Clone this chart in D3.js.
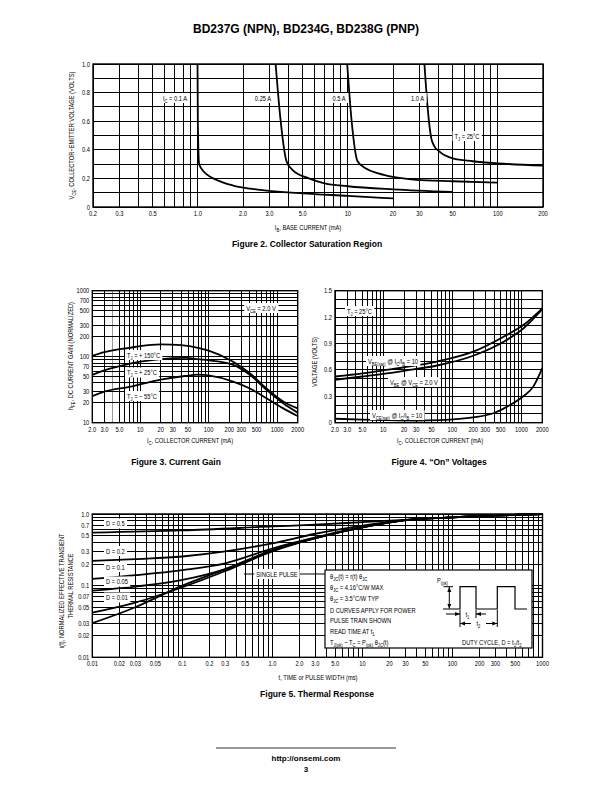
<!DOCTYPE html>
<html><head><meta charset="utf-8">
<script src="https://cdn.jsdelivr.net/npm/d3@7"></script>
<style>
body{margin:0;background:#fff}
svg{display:block}
text{font-family:"Liberation Sans",Arial,Helvetica,sans-serif;fill:#000}
text.bold{font-weight:bold}
</style></head><body>
<svg id="page" width="612" height="792"></svg>
<script>
// ---------- Figure 2 data ----------
const fig2XTicks = [0.2,0.3,0.5,1,2,3,5,10,20,30,50,100,200];
const fig2XLabels = ["0.2","0.3","0.5","1.0","2.0","3.0","5.0","10","20","30","50","100","200"];
const fig2YTicks = [0,0.2,0.4,0.6,0.8,1.0];
const fig2YLabels = ["0","0.2","0.4","0.6","0.8","1.0"];
const ic01 = [[0.995,1.0],[1.0,0.6],[1.02,0.30],[1.07,0.26],[1.14,0.23],[1.33,0.19],[1.72,0.15],[2.6,0.12],[5.0,0.095],[10,0.078],[20,0.06]];
const ic025 = [[3.3,1.0],[3.55,0.62],[3.9,0.32],[4.27,0.26],[5.5,0.20],[7,0.165],[10,0.145],[20,0.123],[50,0.105]];
const ic05 = [[9.9,1.0],[10.6,0.6],[11.6,0.32],[13.2,0.27],[16,0.235],[20,0.21],[28.5,0.19],[50,0.18],[100,0.17]];
const ic10 = [[32.4,1.0],[34,0.7],[36,0.48],[37.5,0.43],[40.5,0.39],[50,0.34],[68,0.32],[100,0.305],[200,0.29]];

// ---------- Figure 3 data ----------
const icTicks = [2,3,5,10,20,30,50,100,200,300,500,1000,2000];
const icLabels = ["2.0","3.0","5.0","10","20","30","50","100","200","300","500","1000","2000"];
const fig3YTicks = [10,20,30,50,70,100,200,300,500,700,1000];
const fig3YLabels = ["10","20","30","50","70","100","200","300","500","700","1000"];
const hfe150 = [[2,103],[3,117],[5,130],[7,136],[10,145],[20,154],[40,150],[75,134],[100,124],[228,84],[400,56],[700,33],[1228,21],[2000,16.5]];
const hfe25 = [[2,53],[3,62],[5,72],[10,84],[20,92],[47,96],[75,91],[100,88],[228,75],[400,53],[700,31.5],[1228,19.7],[2000,14.2]];
const hfeM55 = [[2,25.3],[3,29.5],[7,35],[20,45],[45,51],[70,53.5],[104,51.5],[228,42],[400,33],[700,23.4],[1228,16.5],[2000,12.6]];

// ---------- Figure 4 data ----------
const fig4YTicks = [0,0.3,0.6,0.9,1.2,1.5];
const fig4YLabels = ["0","0.3","0.6","0.9","1.2","1.5"];
const vbeSat = [[2,0.525],[5,0.56],[10,0.595],[20,0.63],[60,0.695],[200,0.807],[611,0.997],[1062,1.11],[2000,1.30]];
const vbe = [[2,0.488],[5,0.525],[10,0.555],[20,0.59],[60,0.65],[200,0.761],[611,0.94],[1062,1.07],[2000,1.29]];
const vceSat = [[2,0.045],[5,0.035],[10,0.03],[30,0.025],[66,0.03],[200,0.06],[400,0.11],[611,0.18],[1062,0.3],[1480,0.41],[2000,0.62]];

// ---------- Figure 5 data ----------
const fig5XTicks = [0.01,0.02,0.03,0.05,0.1,0.2,0.3,0.5,1,2,3,5,10,20,30,50,100,200,300,500,1000];
const fig5XLabels = ["0.01","0.02","0.03","0.05","0.1","0.2","0.3","0.5","1.0","2.0","3.0","5.0","10","20","30","50","100","200","300","500","1000"];
const fig5YTicks = [0.01,0.02,0.03,0.05,0.07,0.1,0.2,0.3,0.5,0.7,1.0];
const fig5YLabels = ["0.01","0.02","0.03","0.05","0.07","0.1","0.2","0.3","0.5","0.7","1.0"];
const d05 = [[0.01,0.55],[0.1,0.59],[1,0.67],[3,0.71],[10,0.77],[30,0.83],[100,0.9],[1000,1.0]];
const d02 = [[0.01,0.222],[0.03,0.235],[0.1,0.255],[0.3,0.30],[1,0.39],[3,0.53],[10,0.69],[30,0.83],[100,0.9],[1000,1.0]];
const d01 = [[0.01,0.124],[0.03,0.14],[0.1,0.165],[0.3,0.205],[1,0.33],[3,0.47],[10,0.66],[30,0.82],[100,0.9],[1000,1.0]];
const d005 = [[0.01,0.085],[0.03,0.097],[0.1,0.12],[0.3,0.17],[1,0.31],[3,0.46],[10,0.65],[30,0.82],[100,0.9],[1000,1.0]];
const d001 = [[0.01,0.042],[0.03,0.058],[0.1,0.095],[0.3,0.16],[1,0.30],[3,0.46],[10,0.65],[30,0.82],[100,0.9],[1000,1.0]];
const single = [[0.01,0.030],[0.03,0.05],[0.1,0.10],[0.3,0.17],[1,0.31],[3,0.46],[10,0.65],[30,0.82],[100,0.9],[1000,1.0]];
const insetLines = ["θ_{JC}(t) = r(t) θ_{JC}","θ_{JC} = 4.16°C/W MAX","θ_{JC} = 3.5°C/W TYP","D CURVES APPLY FOR POWER","PULSE TRAIN SHOWN","READ TIME AT t_{1}","T_{J(pk)} − T_{C} = P_{(pk)} θ_{JC}(t)"];

// ---------- helpers ----------
const NARROW = 0.82;
const svg = d3.select('#page');
svg.append('rect').attr('width',612).attr('height',792).attr('fill','#fff');
const defs = svg.append('defs');
defs.append('marker').attr('id','arr').attr('viewBox','0 0 10 10').attr('refX',10).attr('refY',5)
  .attr('markerWidth',5).attr('markerHeight',5).attr('orient','auto-start-reverse').attr('markerUnits','userSpaceOnUse')
  .append('path').attr('d','M0,1 L10,5 L0,9 Z').attr('fill','#000');

function rich(sel, str){
  const fs = parseFloat(sel.attr('font-size')) || 7;
  const parts = str.split(/(_\{[^}]*\})/);
  let sub = false;
  parts.forEach(p=>{
    if(!p) return;
    const m = p.match(/^_\{([^}]*)\}$/);
    if(m){ const ts = sel.append('tspan').attr('font-size', fs*0.72).text(m[1]); if(!sub) ts.attr('dy', fs*0.3); sub = true; }
    else { const ts = sel.append('tspan').text(p); if(sub){ ts.attr('dy', -fs*0.3); sub = false; } }
  });
  return sel;
}
function addText(g, x, y, str, o={}){
  const sx = o.cls ? 1 : NARROW;
  const t = g.append('text').attr('x',0).attr('y',0).attr('font-size',o.size||7).attr('text-anchor',o.anchor||'start')
    .attr('transform',`translate(${x},${y})${o.rotate?` rotate(${o.rotate})`:''} scale(${sx},1)`);
  if(o.cls) t.attr('class',o.cls);
  rich(t,str);
  return t;
}
function boxed(g, x, yc, str, o={}){
  const t = addText(g, x, yc+2.5, str, o);
  const bb = t.node().getBoundingClientRect();
  g.insert('rect', ()=>t.node()).attr('x',bb.left-2).attr('y',yc-5).attr('width',bb.width+4).attr('height',10).attr('fill','#fff');
  return t;
}
function logVals(dom){
  const [a,b] = dom, out=[];
  for(let e=Math.floor(Math.log10(a)); e<=Math.ceil(Math.log10(b)); e++)
    for(let k=1;k<=9;k++){ const v=+(k*Math.pow(10,e)).toPrecision(6); if(v>=a*0.999 && v<=b*1.001) out.push(v); }
  return out;
}
function panel(c){
  const g = svg.append('g');
  const xs = d3.scaleLog().domain(c.xDom).range([c.x0,c.x1]);
  const ys = (c.yLog? d3.scaleLog(): d3.scaleLinear()).domain(c.yDom).range([c.y1,c.y0]);
  const grid = g.append('g').attr('stroke','#000').attr('stroke-width',1).attr('shape-rendering','crispEdges');
  logVals(c.xDom).forEach(v=>{
    grid.append('line').attr('x1',xs(v)).attr('x2',xs(v)).attr('y1',c.y0).attr('y2',c.y1)
      .attr('stroke', (c.grayX && c.grayX.includes(v)) ? '#999' : '#000');
  });
  const yv = c.yLog ? logVals(c.yDom) : d3.range(c.yDom[0], c.yDom[1]+1e-9, c.yStep);
  yv.forEach(v=> grid.append('line').attr('x1',c.x0).attr('x2',c.x1).attr('y1',ys(v)).attr('y2',ys(v)));
  g.append('rect').attr('x',c.x0).attr('y',c.y0).attr('width',c.x1-c.x0).attr('height',c.y1-c.y0)
    .attr('fill','none').attr('stroke','#000').attr('stroke-width',1.4);
  c.xTicks.forEach((v,i)=> addText(g, xs(v), c.y1+9, c.xLabels[i], {anchor:'middle'}));
  c.yTicks.forEach((v,i)=> addText(g, c.x0-3, ys(v)+2.5, c.yLabels[i], {anchor:'end'}));
  const line = d3.line().x(d=>xs(d[0])).y(d=>ys(d[1])).curve(d3.curveMonotoneX);
  const curves = g.append('g').attr('fill','none').attr('stroke','#000').attr('stroke-width',1.8);
  c.series.forEach(s=> curves.append('path').datum(s).attr('d', line));
  return {g,xs,ys};
}

// ---------- Title ----------
addText(svg, 306, 33, "BD237G (NPN), BD234G, BD238G (PNP)", {anchor:'middle', size:12, cls:'bold'});

// ---------- Figure 2 ----------
const p2 = panel({x0:93,x1:543,y0:64,y1:207,xDom:[0.2,200],yDom:[0,1],yStep:0.1,
  xTicks:fig2XTicks,xLabels:fig2XLabels,yTicks:fig2YTicks,yLabels:fig2YLabels,series:[ic01,ic025,ic05,ic10]});
boxed(p2.g, 175, 98, "I_{C} = 0.1 A", {anchor:'middle'});
boxed(p2.g, 263, 98, "0.25 A", {anchor:'middle'});
boxed(p2.g, 339, 98, "0.5 A", {anchor:'middle'});
boxed(p2.g, 417.5, 98, "1.0 A", {anchor:'middle'});
boxed(p2.g, 467, 136, "T_{J} = 25°C", {anchor:'middle'});
addText(svg, 74, 135.5, "V_{CE}, COLLECTOR−EMITTER VOLTAGE (VOLTS)", {anchor:'middle', rotate:-90});
addText(svg, 308, 230, "I_{B}, BASE CURRENT (mA)", {anchor:'middle'});
addText(svg, 307, 247, "Figure 2. Collector Saturation Region", {anchor:'middle', size:8.5, cls:'bold'});

// ---------- Figure 3 ----------
const p3 = panel({x0:92.3,x1:297.7,y0:290.7,y1:422.7,xDom:[2,2000],yDom:[10,1000],yLog:true,grayX:[4],
  xTicks:icTicks,xLabels:icLabels,yTicks:fig3YTicks,yLabels:fig3YLabels,series:[hfe150,hfe25,hfeM55]});
boxed(p3.g, 261, 308, "V_{CE} = 2.0 V", {anchor:'middle'});
boxed(p3.g, 127, 355, "T_{J} = + 150°C");
boxed(p3.g, 127, 372.5, "T_{J} = + 25°C");
boxed(p3.g, 127, 396, "T_{J} = − 55°C");
addText(svg, 73, 356, "h_{FE}, DC CURRENT GAIN (NORMALIZED)", {anchor:'middle', rotate:-90});
addText(svg, 190, 443, "I_{C}, COLLECTOR CURRENT (mA)", {anchor:'middle'});
addText(svg, 176, 465, "Figure 3. Current Gain", {anchor:'middle', size:8.5, cls:'bold'});

// ---------- Figure 4 ----------
const p4 = panel({x0:335,x1:542.3,y0:290.7,y1:422.7,xDom:[2,2000],yDom:[0,1.5],yStep:0.1,
  xTicks:icTicks,xLabels:icLabels,yTicks:fig4YTicks,yLabels:fig4YLabels,series:[vbeSat,vbe,vceSat]});
boxed(p4.g, 347, 311, "T_{J} = 25°C");
boxed(p4.g, 368, 361, "V_{BE(sat)} @ I_{C}/I_{B} = 10");
boxed(p4.g, 390, 382, "V_{BE} @ V_{CE} = 2.0 V");
boxed(p4.g, 372, 415, "V_{CE(sat)} @ I_{C}/I_{B} = 10");
addText(svg, 317, 362, "VOLTAGE (VOLTS)", {anchor:'middle', rotate:-90});
addText(svg, 440, 443, "I_{C}, COLLECTOR CURRENT (mA)", {anchor:'middle'});
addText(svg, 439, 465, "Figure 4. “On” Voltages", {anchor:'middle', size:8.5, cls:'bold'});

// ---------- Figure 5 ----------
const p5 = panel({x0:92.3,x1:542.5,y0:514,y1:657.3,xDom:[0.01,1000],yDom:[0.01,1],yLog:true,
  xTicks:fig5XTicks,xLabels:fig5XLabels,yTicks:fig5YTicks,yLabels:fig5YLabels,series:[d05,d02,d01,d005,d001,single]});
boxed(p5.g, 106, 523.5, "D = 0.5");
boxed(p5.g, 106, 551, "D = 0.2");
boxed(p5.g, 106, 567, "D = 0.1");
boxed(p5.g, 106, 581.5, "D = 0.05");
boxed(p5.g, 106, 597.5, "D = 0.01");
p5.g.append('line').attr('x1',244).attr('x2',325).attr('y1',574).attr('y2',574).attr('stroke','#000').attr('stroke-width',1);
boxed(p5.g, 277, 574, "SINGLE PULSE", {anchor:'middle'});
// inset
const ins = p5.g.append('g');
ins.append('rect').attr('x',325).attr('y',570).attr('width',207).attr('height',78).attr('fill','#fff').attr('stroke','#000').attr('stroke-width',1.2);
insetLines.forEach((s,i)=> addText(ins, 330, [579,590,601,612.5,623,634,644.5][i], s));
ins.append('path').attr('d','M443,609 H460 V586.7 H476 V609 H497.3 V586.7 H515 V609 H527').attr('fill','none').attr('stroke','#000').attr('stroke-width',1.2);
addText(ins, 437, 582.5, "P_{(pk)}");
ins.append('line').attr('x1',443.5).attr('x2',453).attr('y1',586.7).attr('y2',586.7).attr('stroke','#000');
ins.append('line').attr('x1',449.3).attr('x2',449.3).attr('y1',587).attr('y2',608.7).attr('stroke','#000').attr('marker-start','url(#arr)').attr('marker-end','url(#arr)');
ins.append('line').attr('x1',460).attr('x2',460).attr('y1',610).attr('y2',627).attr('stroke','#000');
ins.append('line').attr('x1',476).attr('x2',476).attr('y1',610).attr('y2',618).attr('stroke','#000');
ins.append('line').attr('x1',497.3).attr('x2',497.3).attr('y1',610).attr('y2',627).attr('stroke','#000');
ins.append('line').attr('x1',446).attr('x2',460).attr('y1',614).attr('y2',614).attr('stroke','#000').attr('marker-end','url(#arr)');
ins.append('line').attr('x1',486).attr('x2',476).attr('y1',614).attr('y2',614).attr('stroke','#000').attr('marker-end','url(#arr)');
addText(ins, 465.5, 616.5, "t_{1}");
ins.append('line').attr('x1',471).attr('x2',460).attr('y1',623.5).attr('y2',623.5).attr('stroke','#000').attr('marker-end','url(#arr)');
ins.append('line').attr('x1',486).attr('x2',497.3).attr('y1',623.5).attr('y2',623.5).attr('stroke','#000').attr('marker-end','url(#arr)');
addText(ins, 476.5, 626, "t_{2}");
addText(ins, 462, 644.5, "DUTY CYCLE, D = t_{1}/t_{2}");
addText(svg, 64, 591, "r(t), NORMALIZED EFFECTIVE TRANSIENT", {anchor:'middle', rotate:-90});
addText(svg, 73, 586, "THERMAL RESISTANCE", {anchor:'middle', rotate:-90});
addText(svg, 318, 680, "t, TIME or PULSE WIDTH (ms)", {anchor:'middle'});
addText(svg, 317, 697, "Figure 5. Thermal Response", {anchor:'middle', size:8.5, cls:'bold'});

// ---------- Footer ----------
svg.append('line').attr('x1',216).attr('x2',396).attr('y1',748).attr('y2',748).attr('stroke','#000').attr('stroke-width',0.8);
addText(svg, 306, 761, "http://onsemi.com", {anchor:'middle', size:8, cls:'bold'});
addText(svg, 306, 772, "3", {anchor:'middle', size:8, cls:'bold'});
</script>
</body></html>
